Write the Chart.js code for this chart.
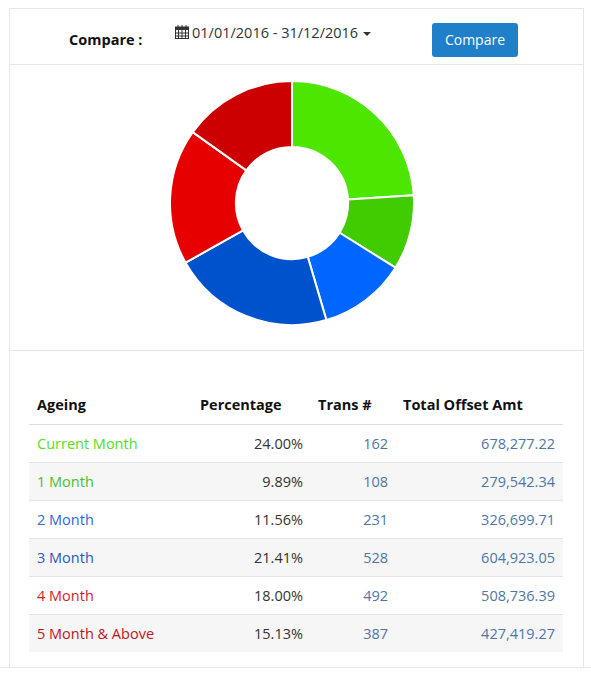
<!DOCTYPE html>
<html>
<head>
<meta charset="utf-8">
<title>Ageing</title>
<script src="https://cdn.jsdelivr.net/npm/chart.js@4"></script>
<style>
  html, body { margin: 0; padding: 0; background: #fff; }
  body { width: 591px; height: 675px; position: relative; overflow: hidden; font-family: "Open Sans", sans-serif; font-size: 14.5px; color: #333; }
  .panel { position: absolute; left: 9px; top: 8px; width: 573px; height: 658px; border: 1px solid #e7e7e7; border-bottom: none; }
  .rule { position: absolute; height: 1px; background: #e7e7e7; }
  .label { position: absolute; left: 69px; top: 30px; font-weight: 700; color: #111; }
  .range { position: absolute; left: 175px; top: 23px; color: #333; white-space: nowrap; }
  .range svg { vertical-align: -1px; margin-right: 3px; }
  .caret { display: inline-block; margin-left: 5px; vertical-align: 2px; border-top: 4px solid #333; border-left: 4px solid transparent; border-right: 4px solid transparent; }
  .btn { position: absolute; left: 432px; top: 23px; width: 86px; height: 34px; line-height: 33px; text-align: center; background: #1f7fc9; color: #fff; border-radius: 3px; font-size: 14px; }
  #wrap { position: absolute; left: 169px; top: 80px; width: 246px; height: 246px; }
  table { position: absolute; left: 29px; top: 386px; width: 534px; border-collapse: collapse; table-layout: fixed; }
  th { height: 38px; padding: 0 8px; font-weight: 700; color: #111; text-align: left; border-bottom: 1px solid #ddd; box-sizing: border-box; white-space: nowrap; }
  td { height: 38px; padding: 0 8px; box-sizing: border-box; border-top: 1px solid #e4e4e4; white-space: nowrap; }
  tr:nth-child(even) td { background: #f6f6f6; }
  .num { text-align: right; }
  .link { color: #4f76a6; }
</style>
</head>
<body>
<div class="panel"></div>
<div class="rule" style="left:10px;top:64px;width:573px"></div>
<div class="rule" style="left:10px;top:350px;width:573px"></div>
<div class="rule" style="left:0;top:667px;width:591px"></div>

<div class="label">Compare :</div>
<div class="range">
  <svg width="14" height="14" viewBox="0 0 14 14"><rect x="0.5" y="2" width="13" height="11.5" fill="none" stroke="#333"/><rect x="0.5" y="2" width="13" height="3" fill="#333"/><path d="M3 0v3M7 0v3M11 0v3M0 8h14M0 11h14M3.5 5v9M7 5v9M10.5 5v9" stroke="#333" stroke-width="1"/></svg><span>01/01/2016 - 31/12/2016</span><span class="caret"></span>
</div>
<div class="btn">Compare</div>

<div id="wrap"><canvas id="chart"></canvas></div>

<table>
  <colgroup><col style="width:162px"><col style="width:120px"><col style="width:85px"><col style="width:167px"></colgroup>
  <thead><tr>
    <th>Ageing</th>
    <th style="padding-left:9px">Percentage</th>
    <th style="padding-left:7px">Trans #</th>
    <th style="padding-left:7px">Total Offset Amt</th>
  </tr></thead>
  <tbody id="rows"></tbody>
</table>

<script>
const categories = ['Current Month', '1 Month', '2 Month', '3 Month', '4 Month', '5 Month & Above'];
const percentages = [24.00, 9.89, 11.56, 21.41, 18.00, 15.13];
const transCounts = [162, 108, 231, 528, 492, 387];
const offsetAmts = ['678,277.22', '279,542.34', '326,699.71', '604,923.05', '508,736.39', '427,419.27'];
const sliceColors = ['#4ce600', '#40cc00', '#0066ff', '#0052cc', '#e60000', '#cc0000'];
const textColors = ['#55dd22', '#49c12b', '#2f68dd', '#2a59b8', '#d3202a', '#bf1522'];

// table rows below the doughnut
const tbody = document.querySelector('#rows');
categories.forEach((name, i) => {
  const tr = document.createElement('tr');
  tr.innerHTML =
    `<td style="color:${textColors[i]}">${name.replace('&', '&amp;')}</td>` +
    `<td class="num">${percentages[i].toFixed(2)}%</td>` +
    `<td class="num link">${transCounts[i]}</td>` +
    `<td class="num link">${offsetAmts[i]}</td>`;
  tbody.appendChild(tr);
});

const ctx = document.querySelector('#chart').getContext('2d');
const chart = new Chart(ctx, {
  type: 'doughnut',
  data: {
    labels: categories,
    datasets: [{
      data: percentages,
      backgroundColor: sliceColors,
      borderColor: '#fff',
      borderWidth: 2
    }]
  },
  options: {
    responsive: true,
    maintainAspectRatio: false,
    animation: false,
    cutout: '46%',
    plugins: {
      legend: { display: false },
      tooltip: { enabled: false }
    }
  }
});
</script>
</body>
</html>
